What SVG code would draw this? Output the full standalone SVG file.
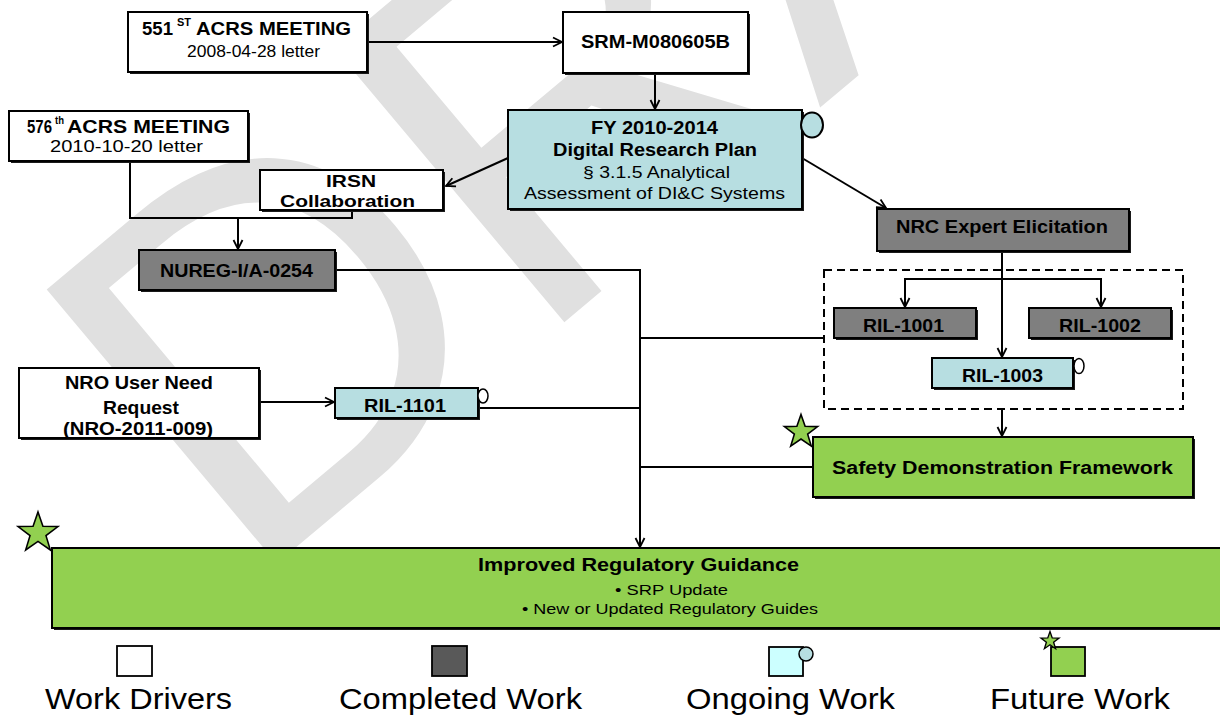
<svg xmlns="http://www.w3.org/2000/svg" width="1220" height="715" viewBox="0 0 1220 715">
<defs>
<style>
text{font-family:"Liberation Sans",Arial,sans-serif;fill:#000}
.b{font-weight:bold;font-size:18px}
.b2{font-weight:bold;font-size:16.5px}
.r{font-size:17px}
.s{font-size:15px}
.sup{font-weight:bold;font-size:10px}
.lg{font-size:29px}
.wm{font-size:520px;fill:#e0e0e0}
.box{stroke:#000;stroke-width:2}
.sh{fill:#1a1a1a}
.w{fill:#fff}.g{fill:#7f7f7f}.t{fill:#b7dee1}.gr{fill:#92d050}
.c{fill:none;stroke:#000;stroke-width:2}
.dash{fill:none;stroke:#000;stroke-width:2;stroke-dasharray:8 5}
.st{fill:#92d050;stroke:#000;stroke-width:1.5}
</style>
<marker id="ah" markerWidth="12" markerHeight="12" viewBox="0 0 12 12" refX="11" refY="6" orient="auto" markerUnits="userSpaceOnUse"><path d="M2,1.5 L11,6 L2,10.5" fill="none" stroke="#000" stroke-width="1.8"/></marker>
<path id="star" d="M0,-10 L2.35,-3.24 L9.51,-3.09 L3.80,1.24 L5.88,8.09 L0,4 L-5.88,8.09 L-3.80,1.24 L-9.51,-3.09 L-2.35,-3.24Z"/>
</defs>
<rect width="1220" height="715" fill="#fff"/>

<g id="watermark">
<text class="wm" transform="translate(244,591) rotate(-40)">DRAFT</text>
</g>

<g id="connectors">
<line class="c" x1="367" y1="42" x2="562" y2="42" marker-end="url(#ah)"/>
<line class="c" x1="655" y1="73" x2="655" y2="109" marker-end="url(#ah)"/>
<line class="c" x1="508" y1="158" x2="446" y2="186" marker-end="url(#ah)"/>
<line class="c" x1="802" y1="158" x2="886" y2="208" marker-end="url(#ah)"/>
<polyline class="c" points="130,162 130,218 352,218 352,211"/>
<line class="c" x1="238" y1="218" x2="238" y2="249" marker-end="url(#ah)"/>
<polyline class="c" points="335,270 640,270 640,547" marker-end="url(#ah)"/>
<line class="c" x1="824" y1="338" x2="640" y2="338"/>
<line class="c" x1="478" y1="408" x2="640" y2="408"/>
<line class="c" x1="813" y1="467" x2="640" y2="467"/>
<line class="c" x1="259" y1="402" x2="334" y2="402" marker-end="url(#ah)"/>
<line class="c" x1="1002" y1="251" x2="1002" y2="357" marker-end="url(#ah)"/>
<polyline class="c" points="905,307 905,279 1101,279 1101,307"/>
<line class="c" x1="905" y1="300" x2="905" y2="307" marker-end="url(#ah)"/>
<line class="c" x1="1101" y1="300" x2="1101" y2="307" marker-end="url(#ah)"/>
<line class="c" x1="1002" y1="409" x2="1002" y2="436" marker-end="url(#ah)"/>
</g>

<g id="acrs551">
<rect class="sh" x="130" y="14" width="239" height="60"/>
<rect class="box w" x="128" y="12" width="239" height="60"/>
<text class="b" x="142" y="35" textLength="31" lengthAdjust="spacingAndGlyphs">551</text>
<text class="sup" x="177" y="26" textLength="14" lengthAdjust="spacingAndGlyphs">ST</text>
<text class="b" x="196" y="35" textLength="155" lengthAdjust="spacingAndGlyphs">ACRS MEETING</text>
<text class="r" x="187" y="57" textLength="133" lengthAdjust="spacingAndGlyphs">2008-04-28 letter</text>
</g>

<g id="srm">
<rect class="sh" x="565" y="14" width="185" height="61"/>
<rect class="box w" x="563" y="12" width="185" height="61"/>
<text class="b" x="581" y="48" textLength="149" lengthAdjust="spacingAndGlyphs">SRM-M080605B</text>
</g>

<g id="fy-plan">
<rect class="sh" x="510" y="112" width="294" height="99"/>
<rect class="box t" x="508" y="110" width="294" height="99"/>
<ellipse class="t" cx="812" cy="125" rx="11" ry="12.5" stroke="#000" stroke-width="2"/>
<text class="b" x="591" y="134" textLength="127" lengthAdjust="spacingAndGlyphs">FY 2010-2014</text>
<text class="b" x="553" y="156" textLength="204" lengthAdjust="spacingAndGlyphs">Digital Research Plan</text>
<text class="r" x="583" y="178" textLength="147" lengthAdjust="spacingAndGlyphs">§ 3.1.5 Analytical</text>
<text class="r" x="524" y="199" textLength="261" lengthAdjust="spacingAndGlyphs">Assessment of DI&amp;C Systems</text>
</g>

<g id="acrs576">
<rect class="sh" x="11" y="113" width="239" height="50"/>
<rect class="box w" x="9" y="111" width="239" height="50"/>
<text class="b" x="27" y="133" textLength="25" lengthAdjust="spacingAndGlyphs">576</text>
<text class="sup" x="55" y="124" textLength="9" lengthAdjust="spacingAndGlyphs">th</text>
<text class="b" x="67" y="133" textLength="163" lengthAdjust="spacingAndGlyphs">ACRS MEETING</text>
<text class="r" x="50" y="152" textLength="153" lengthAdjust="spacingAndGlyphs">2010-10-20 letter</text>
</g>

<g id="irsn">
<rect class="sh" x="262" y="172" width="183" height="40"/>
<rect class="box w" x="260" y="170" width="183" height="40"/>
<text class="b2" x="326" y="187" textLength="50" lengthAdjust="spacingAndGlyphs">IRSN</text>
<text class="b2" x="280" y="207" textLength="135" lengthAdjust="spacingAndGlyphs">Collaboration</text>
</g>

<g id="nureg">
<rect class="sh" x="141" y="252" width="196" height="40"/>
<rect class="box g" x="139" y="250" width="196" height="40"/>
<text class="b" x="160" y="277" textLength="153" lengthAdjust="spacingAndGlyphs">NUREG-I/A-0254</text>
</g>

<g id="nrc-elicitation">
<rect class="sh" x="879" y="211" width="252" height="42"/>
<rect class="box g" x="877" y="209" width="252" height="42"/>
<text class="b" x="896" y="233" textLength="212" lengthAdjust="spacingAndGlyphs">NRC Expert Elicitation</text>
</g>

<g id="ril-group">
<rect class="dash" x="824" y="270" width="359" height="139"/>
</g>

<g id="ril1001">
<rect class="sh" x="836" y="310" width="142" height="30"/>
<rect class="box g" x="834" y="308" width="142" height="30"/>
<text class="b" x="863" y="332" textLength="81" lengthAdjust="spacingAndGlyphs">RIL-1001</text>
</g>

<g id="ril1002">
<rect class="sh" x="1031" y="310" width="142" height="30"/>
<rect class="box g" x="1029" y="308" width="142" height="30"/>
<text class="b" x="1059" y="332" textLength="82" lengthAdjust="spacingAndGlyphs">RIL-1002</text>
</g>

<g id="ril1003">
<rect class="sh" x="934" y="360" width="141" height="30"/>
<rect class="box t" x="932" y="358" width="141" height="30"/>
<ellipse cx="1079" cy="366" rx="5" ry="7.5" fill="#fff" stroke="#000" stroke-width="1.5"/>
<text class="b" x="962" y="382" textLength="81" lengthAdjust="spacingAndGlyphs">RIL-1003</text>
</g>

<g id="nro">
<rect class="sh" x="21" y="370" width="240" height="70"/>
<rect class="box w" x="19" y="368" width="240" height="70"/>
<text class="b" x="65" y="389" textLength="148" lengthAdjust="spacingAndGlyphs">NRO User Need</text>
<text class="b" x="103" y="414" textLength="76" lengthAdjust="spacingAndGlyphs">Request</text>
<text class="b" x="63" y="435" textLength="150" lengthAdjust="spacingAndGlyphs">(NRO-2011-009)</text>
</g>

<g id="ril1101">
<rect class="sh" x="337" y="390" width="143" height="30"/>
<rect class="box t" x="335" y="388" width="143" height="30"/>
<ellipse cx="483" cy="396" rx="5" ry="7" fill="#fff" stroke="#000" stroke-width="1.5"/>
<text class="b" x="364" y="412" textLength="82" lengthAdjust="spacingAndGlyphs">RIL-1101</text>
</g>

<g id="safety">
<rect class="sh" x="815" y="439" width="380" height="60"/>
<rect class="box gr" x="813" y="437" width="380" height="60"/>
<use href="#star" class="st" transform="translate(801,432) scale(1.75)" style="stroke-width:0.9"/>
<text class="b" x="832" y="474" textLength="341" lengthAdjust="spacingAndGlyphs">Safety Demonstration Framework</text>
</g>

<g id="improved">
<rect class="sh" x="54" y="550" width="1180" height="80"/>
<rect class="box gr" x="52" y="548" width="1180" height="80"/>
<use href="#star" class="st" transform="translate(38,533) scale(2.1)" style="stroke-width:0.75"/>
<text class="b" x="478" y="571" textLength="321" lengthAdjust="spacingAndGlyphs">Improved Regulatory Guidance</text>
<text class="s" x="615" y="595" textLength="113" lengthAdjust="spacingAndGlyphs">• SRP Update</text>
<text class="s" x="522" y="614" textLength="296" lengthAdjust="spacingAndGlyphs">• New or Updated Regulatory Guides</text>
</g>

<g id="legend">
<rect x="117" y="646" width="35" height="30" fill="#fff" stroke="#000" stroke-width="1.8"/>
<rect x="432" y="646" width="35" height="30" fill="#595959" stroke="#000" stroke-width="1.8"/>
<rect x="769" y="647" width="34" height="29" fill="#ccffff" stroke="#000" stroke-width="1.8"/>
<circle cx="806" cy="654" r="7" fill="#b7dee1" stroke="#000" stroke-width="1.5"/>
<rect x="1051" y="647" width="34" height="29" fill="#92d050" stroke="#000" stroke-width="1.8"/>
<use href="#star" class="st" transform="translate(1050,641) scale(0.95)" style="stroke-width:1.4"/>
<text class="lg" x="45" y="709" textLength="187" lengthAdjust="spacingAndGlyphs">Work Drivers</text>
<text class="lg" x="339" y="709" textLength="243" lengthAdjust="spacingAndGlyphs">Completed Work</text>
<text class="lg" x="686" y="709" textLength="209" lengthAdjust="spacingAndGlyphs">Ongoing Work</text>
<text class="lg" x="990" y="709" textLength="180" lengthAdjust="spacingAndGlyphs">Future Work</text>
</g>
</svg>
